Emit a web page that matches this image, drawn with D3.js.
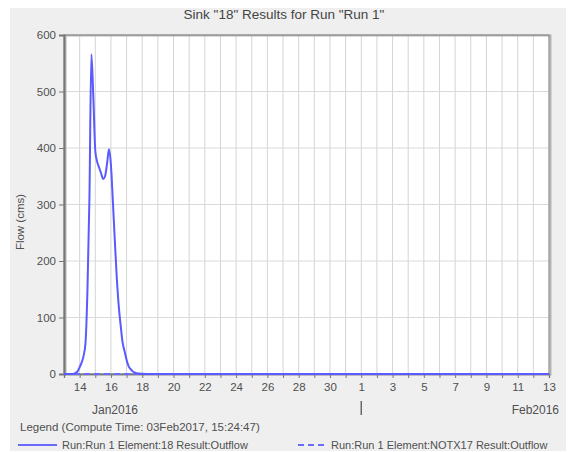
<!DOCTYPE html>
<html>
<head>
<meta charset="utf-8">
<script src="https://cdn.jsdelivr.net/npm/d3@7/dist/d3.min.js"></script>
<style>
  html, body { margin: 0; padding: 0; background: #ffffff; }
  svg { display: block; font-family: "Liberation Sans", Arial, sans-serif; }
</style>
</head>
<body>
<svg id="chart" width="571" height="452"></svg>
<script>
// ---- data ----
const chartTitle = 'Sink "18" Results for Run "Run 1"';
const yLabel = "Flow (cms)";
const legendTitle = "Legend (Compute Time: 03Feb2017, 15:24:47)";
const seriesNames = ["Run:Run 1 Element:18 Result:Outflow", "Run:Run 1 Element:NOTX17 Result:Outflow"];

const outflowTimes = [
  "2016-01-13T00:00", "2016-01-13T12:00", "2016-01-13T15:00", "2016-01-13T18:00", "2016-01-13T21:00",
  "2016-01-14T00:00", "2016-01-14T03:00", "2016-01-14T06:00", "2016-01-14T09:00", "2016-01-14T12:00",
  "2016-01-14T15:00", "2016-01-14T18:00", "2016-01-14T21:00", "2016-01-15T00:00", "2016-01-15T03:00",
  "2016-01-15T06:00", "2016-01-15T09:00", "2016-01-15T12:00", "2016-01-15T15:00", "2016-01-15T18:00",
  "2016-01-15T21:00", "2016-01-16T00:00", "2016-01-16T03:00", "2016-01-16T06:00", "2016-01-16T09:00",
  "2016-01-16T12:00", "2016-01-16T15:00", "2016-01-16T18:00", "2016-01-16T21:00", "2016-01-17T00:00",
  "2016-01-17T03:00", "2016-01-17T06:00", "2016-01-17T09:00", "2016-01-17T12:00", "2016-01-17T18:00",
  "2016-01-18T00:00", "2016-01-18T12:00", "2016-02-13T00:00"
];
const outflow18 = [
  0, 0, 0.5, 2, 5,
  12, 20, 32, 55, 150,
  310, 566, 490, 395, 375,
  365, 355, 345, 350, 372,
  398, 370, 305, 235, 170,
  120, 85, 55, 40, 25,
  14, 9, 5, 3, 1,
  0.5, 0, 0
];
const notx17Times = ["2016-01-13T00:00", "2016-02-13T00:00"];
const outflowNotx17 = [0, 0];

const yTicks = [0, 100, 200, 300, 400, 500, 600];
const xStart = "2016-01-13T00:00";
const xEnd = "2016-02-13T00:00";
const monthLabels = ["Jan2016", "Feb2016"];

// ---- drawing ----
const parse = d3.timeParse("%Y-%m-%dT%H:%M");
const svg = d3.select("#chart");
const plot = { left: 64, top: 35, right: 549, bottom: 374 };
const textCol = "#505050";

// panel background
svg.append("rect").attr("x", 10).attr("y", 8).attr("width", 556).attr("height", 443).attr("fill", "#efefef");

const x = d3.scaleTime().domain([parse(xStart), parse(xEnd)]).range([plot.left, plot.right]);
const y = d3.scaleLinear().domain([0, 600]).range([plot.bottom, plot.top]);

// plot area
svg.append("rect").attr("x", plot.left).attr("y", plot.top)
  .attr("width", plot.right - plot.left).attr("height", plot.bottom - plot.top)
  .attr("fill", "#ffffff");

// grid
const days = d3.timeDay.range(parse(xStart), d3.timeDay.offset(parse(xEnd), 1));
svg.append("g").selectAll("line").data(days).join("line")
  .attr("x1", d => x(d)).attr("x2", d => x(d))
  .attr("y1", plot.top).attr("y2", plot.bottom)
  .attr("stroke", "#d4d4d4").attr("stroke-width", 1);
svg.append("g").selectAll("line").data(yTicks).join("line")
  .attr("x1", plot.left).attr("x2", plot.right)
  .attr("y1", d => y(d)).attr("y2", d => y(d))
  .attr("stroke", "#dadada").attr("stroke-width", 1);

// border with shadow
svg.append("rect").attr("x", plot.left + 1.5).attr("y", plot.top + 0.5)
  .attr("width", plot.right - plot.left).attr("height", plot.bottom - plot.top)
  .attr("fill", "none").attr("stroke", "#b5b5b5").attr("stroke-width", 2);
svg.append("rect").attr("x", plot.left).attr("y", plot.top)
  .attr("width", plot.right - plot.left).attr("height", plot.bottom - plot.top)
  .attr("fill", "none").attr("stroke", "#888888").attr("stroke-width", 1);

// y axis
const yAxis = d3.axisLeft(y).tickValues(yTicks).tickSize(5).tickPadding(3);
const gy = svg.append("g").attr("transform", `translate(${plot.left},0)`).call(yAxis);
gy.select(".domain").attr("stroke", "#777").attr("stroke-width", 1.8);
gy.selectAll(".tick line").attr("stroke", "#777");
gy.selectAll("text").attr("fill", textCol).attr("font-size", "11.5px").attr("font-family", "Liberation Sans, Arial, sans-serif");

// x axis
const xAxis = d3.axisBottom(x).ticks(d3.timeDay.every(1)).tickSize(4).tickPadding(5)
  .tickFormat(d => {
    const idx = d3.timeDay.count(parse(xStart), d);
    return idx % 2 === 1 ? d3.timeFormat("%-d")(d) : "";
  });
const gx = svg.append("g").attr("transform", `translate(0,${plot.bottom})`).call(xAxis);
gx.select(".domain").attr("stroke", "#777").attr("stroke-width", 1.3);
gx.selectAll(".tick line").attr("stroke", "#777");
gx.selectAll("text").attr("fill", textCol).attr("font-size", "11.5px").attr("font-family", "Liberation Sans, Arial, sans-serif");

// month labels and separator
const febStart = d3.timeMonth.ceil(parse(xStart));
svg.append("line").attr("x1", x(febStart)).attr("x2", x(febStart))
  .attr("y1", 401).attr("y2", 415).attr("stroke", "#666").attr("stroke-width", 1.5);
svg.append("text").attr("x", 115).attr("y", 414).attr("text-anchor", "middle")
  .attr("font-size", "12px").attr("fill", textCol).text(monthLabels[0]);
svg.append("text").attr("x", 559).attr("y", 414).attr("text-anchor", "end")
  .attr("font-size", "12px").attr("fill", textCol).text(monthLabels[1]);

// series
const s1 = outflowTimes.map((t, i) => ({ t: parse(t), v: outflow18[i] }));
const s2 = notx17Times.map((t, i) => ({ t: parse(t), v: outflowNotx17[i] }));
const line = d3.line().x(d => x(d.t)).y(d => y(d.v)).curve(d3.curveMonotoneX);
svg.append("path").datum(s2).attr("d", line).attr("fill", "none")
  .attr("stroke", "#6a6aff").attr("stroke-width", 2).attr("stroke-dasharray", "6,4");
svg.append("path").datum(s1).attr("d", line).attr("fill", "none")
  .attr("stroke", "#5a5aff").attr("stroke-width", 2).attr("stroke-linejoin", "round");

// title
svg.append("text").attr("x", 284).attr("y", 19).attr("text-anchor", "middle")
  .attr("font-size", "13.5px").attr("fill", "#444").text(chartTitle);

// y label
svg.append("text").attr("transform", "translate(24,222) rotate(-90)")
  .attr("text-anchor", "middle").attr("font-size", "11.5px").attr("fill", textCol).text(yLabel);

// legend
svg.append("text").attr("x", 20).attr("y", 431).attr("font-size", "11.5px").attr("fill", textCol).text(legendTitle);
svg.append("line").attr("x1", 18).attr("x2", 57).attr("y1", 445).attr("y2", 445)
  .attr("stroke", "#6a6aff").attr("stroke-width", 1.8);
svg.append("text").attr("x", 62).attr("y", 449).attr("font-size", "11px").attr("fill", textCol).text(seriesNames[0]);
svg.append("line").attr("x1", 298).attr("x2", 326).attr("y1", 445).attr("y2", 445)
  .attr("stroke", "#6a6aff").attr("stroke-width", 1.8).attr("stroke-dasharray", "6,4");
svg.append("text").attr("x", 331).attr("y", 449).attr("font-size", "11px").attr("fill", textCol).text(seriesNames[1]);
</script>
</body>
</html>
